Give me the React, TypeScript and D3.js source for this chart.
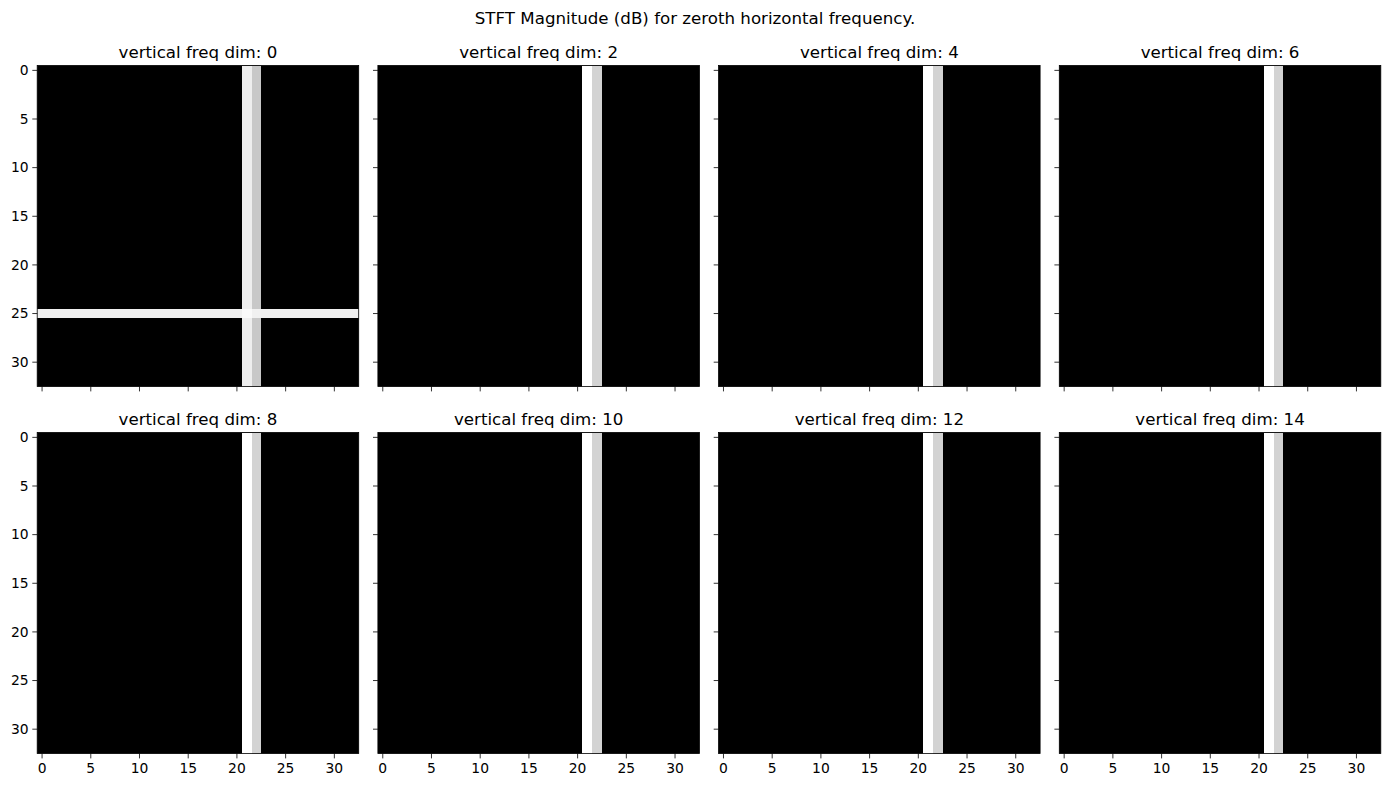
import React from "react";
import * as d3 from "d3";

const suptitle = "STFT Magnitude (dB) for zeroth horizontal frequency.";
const panelDims = [0, 2, 4, 6, 8, 10, 12, 14];
const gridSize = 33;
const tickValues = [0, 5, 10, 15, 20, 25, 30];
// gray levels (0 = black, 1 = white) of bright columns per panel
const brightColumns = [21, 22];
const firstPanelColumnLevels = [0.933, 0.784];
const otherPanelColumnLevels = [1.0, 0.827];
// horizontal bright row only in first panel
const firstPanelRow = 25;
const firstPanelRowLevel = 0.94;
const firstPanelCrossLevels = [0.98, 0.945];

const W = 1390;
const H = 787;
const colX = [37.2, 377.9, 718.6, 1059.3];
const rowY = [65.5, 432.5];
const PW = 321.5;
const PH = 321;
const font = "DejaVu Sans, sans-serif";
const titleSize = 16.67;
const tickSize = 13.89;

function cellLevel(panel: number, r: number, c: number): number {
  const ci = brightColumns.indexOf(c);
  if (panel === 0) {
    if (r === firstPanelRow) {
      if (ci >= 0) return firstPanelCrossLevels[ci];
      return firstPanelRowLevel;
    }
    return ci >= 0 ? firstPanelColumnLevels[ci] : 0;
  }
  return ci >= 0 ? otherPanelColumnLevels[ci] : 0;
}

function Panel({ idx }: { idx: number }) {
  const col = idx % 4;
  const row = Math.floor(idx / 4);
  const x0 = colX[col];
  const y0 = rowY[row];
  const x = d3.scaleLinear().domain([-0.5, gridSize - 0.5]).range([x0, x0 + PW]);
  const y = d3.scaleLinear().domain([-0.5, gridSize - 0.5]).range([y0, y0 + PH]);
  const gray = d3.scaleLinear<string>().domain([0, 1]).range(["#000000", "#ffffff"]);
  const cells: React.ReactNode[] = [];
  cells.push(
    <rect key="bg" x={x(-0.5)} y={y(-0.5)} width={x(gridSize - 0.5) - x(-0.5)} height={y(gridSize - 0.5) - y(-0.5)} fill="#000" />
  );
  for (let r = 0; r < gridSize; r++) {
    for (let c = 0; c < gridSize; c++) {
      const v = cellLevel(idx, r, c);
      if (v === 0) continue;
      cells.push(
        <rect
          key={`${r}-${c}`}
          x={x(c - 0.5)}
          y={y(r - 0.5)}
          width={x(c + 0.5) - x(c - 0.5)}
          height={y(r + 0.5) - y(r - 0.5)}
          fill={gray(v)}
          shapeRendering="crispEdges"
        />
      );
    }
  }
  const showY = col === 0;
  const showX = row === 1;
  return (
    <g>
      {cells}
      <rect x={x0} y={y0} width={PW} height={PH} fill="none" stroke="#000" strokeWidth={0.8} />
      <text x={x0 + PW / 2} y={y0 - 8} textAnchor="middle" fontSize={titleSize} fontFamily={font} fill="#000">
        {`vertical freq dim: ${panelDims[idx]}`}
      </text>
      {tickValues.map((t) => (
        <g key={`y${t}`}>
          <line x1={x0 - 4.9} x2={x0} y1={y(t)} y2={y(t)} stroke="#000" strokeWidth={0.8} />
          {showY && (
            <text x={x0 - 8.5} y={y(t)} dy="0.35em" textAnchor="end" fontSize={tickSize} fontFamily={font} fill="#000">
              {t}
            </text>
          )}
        </g>
      ))}
      {tickValues.map((t) => (
        <g key={`x${t}`}>
          <line x1={x(t)} x2={x(t)} y1={y0 + PH} y2={y0 + PH + 4.9} stroke="#000" strokeWidth={0.8} />
          {showX && (
            <text x={x(t)} y={y0 + PH + 19.5} textAnchor="middle" fontSize={tickSize} fontFamily={font} fill="#000">
              {t}
            </text>
          )}
        </g>
      ))}
    </g>
  );
}

export default function App() {
  return (
    <svg width={W} height={H} style={{ position: "absolute", left: 0, top: 0, background: "#fff" }}>
      <rect x={0} y={0} width={W} height={H} fill="#fff" />
      <text x={695} y={24} textAnchor="middle" fontSize={titleSize} fontFamily={font} fill="#000">
        {suptitle}
      </text>
      {panelDims.map((_, i) => (
        <Panel key={i} idx={i} />
      ))}
    </svg>
  );
}
